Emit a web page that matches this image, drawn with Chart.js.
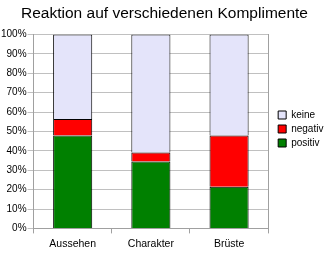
<!DOCTYPE html>
<html>
<head>
<meta charset="utf-8">
<script src="https://cdn.jsdelivr.net/npm/chart.js@4"></script>
<style>
  body { margin: 0; background: #fff; }
  #wrap { width: 333px; height: 260px; }
</style>
</head>
<body>
<div id="wrap"><canvas id="chart" width="333" height="260"></canvas></div>
<script>
// Daten (Anteile in %)
const kategorien = ['Aussehen', 'Charakter', 'Brüste'];
const positiv = [48, 34.5, 21.5];
const negativ = [8.5, 4.7, 26.5];
const keine = [43.5, 60.8, 52];
const yTicks = ['0%', '10%', '20%', '30%', '40%', '50%', '60%', '70%', '80%', '90%', '100%'];

const fontFamily = '"Liberation Sans", Arial, sans-serif';

const ctx = document.getElementById('chart');
const chart = new Chart(ctx, {
    type: 'bar',
    data: {
        labels: kategorien,
        datasets: [
            { label: 'positiv', data: positiv, backgroundColor: '#008000' },
            { label: 'negativ', data: negativ, backgroundColor: '#ff0000' },
            { label: 'keine', data: keine, backgroundColor: '#e4e4fa' }
        ].map(d => Object.assign(d, {
            borderColor: '#000',
            borderWidth: 1,
            borderSkipped: 'start',
            categoryPercentage: 0.5,
            barPercentage: 1
        }))
    },
    options: {
        responsive: false,
        animation: false,
        layout: { padding: { left: 0, right: 4, top: 0, bottom: 6 } },
        plugins: {
            title: {
                display: true,
                text: 'Reaktion auf verschiedenen Komplimente',
                color: '#000',
                font: { family: fontFamily, size: 15.5, weight: 'normal' },
                padding: { top: 4, bottom: 12 }
            },
            legend: {
                position: 'right',
                align: 'start',
                reverse: true,
                // leerer Titel schiebt die Legende nach unten
                title: {
                    display: true,
                    text: ' ',
                    font: { family: fontFamily, size: 10 },
                    padding: { top: 0, bottom: 94 }
                },
                labels: {
                    boxWidth: 8,
                    boxHeight: 8,
                    padding: 4,
                    color: '#000',
                    font: { family: fontFamily, size: 10 }
                }
            },
            tooltip: { enabled: false }
        },
        scales: {
            x: {
                stacked: true,
                grid: { drawOnChartArea: false, drawTicks: true, tickLength: 5, color: '#a0a0a0', offset: true },
                border: { color: '#a0a0a0' },
                ticks: { color: '#000', font: { family: fontFamily, size: 10.5 }, padding: 4 }
            },
            y: {
                stacked: true,
                min: 0,
                max: 100,
                grid: { color: '#c0c0c0', tickLength: 6 },
                border: { color: '#a0a0a0' },
                ticks: {
                    stepSize: 10,
                    color: '#000',
                    font: { family: fontFamily, size: 10 },
                    padding: 1,
                    callback: (v, i) => yTicks[i]
                }
            },
            rechts: {
                position: 'right',
                min: 0,
                max: 100,
                grid: { drawOnChartArea: false, drawTicks: false },
                border: { color: '#a0a0a0' },
                ticks: { display: false },
                afterFit: (scale) => { scale.width = 6; }
            }
        }
    }
});
</script>
</body>
</html>
